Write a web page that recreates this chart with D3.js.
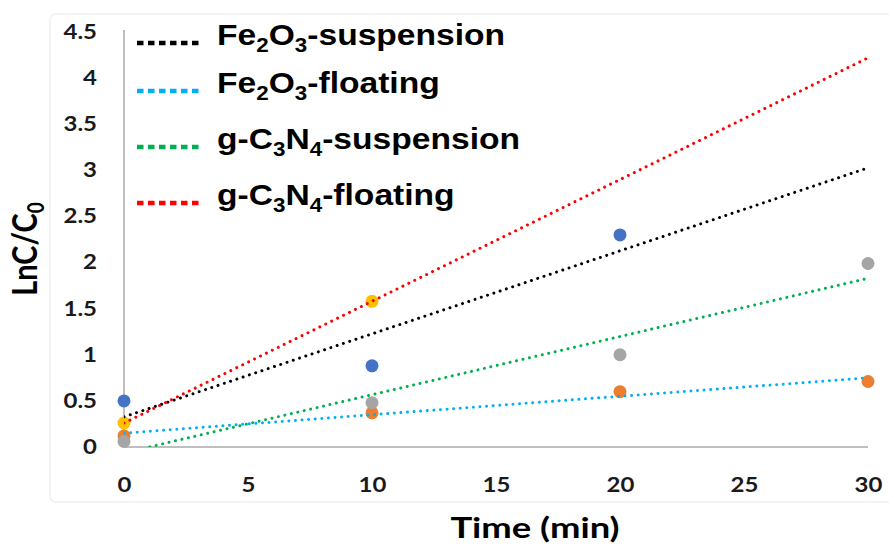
<!DOCTYPE html>
<html lang="en">
<head>
<meta charset="UTF-8">
<title>LnC/C0 vs time</title>
<script src="https://d3js.org/d3.v7.min.js"></script>
<style>
  body { margin: 0; background: white; }
  svg { display: block; }
  .tick text { font-family: Lato, "Open Sans", sans-serif; font-weight: bold; fill: #1a1a1a; }
</style>
</head>
<body>
<svg width="889" height="549"></svg>
<script>
// measured points (time in min, LnC/C0)
const times = [0, 10, 20, 30];
const blueSeries   = [0.50, 0.88, 2.30];          // Fe2O3-suspension
const orangeSeries = [0.12, 0.37, 0.60, 0.71];    // Fe2O3-floating
const graySeries   = [0.06, 0.48, 1.00, 1.99];    // g-C3N4-suspension
const yellowSeries = [0.26, 1.58];                // g-C3N4-floating

const xTicks = [0, 5, 10, 15, 20, 25, 30];
const yTicks = [0, 0.5, 1, 1.5, 2, 2.5, 3, 3.5, 4, 4.5];

// legend labels: [text, subscript?]
const legendLabels = [
  [["Fe"], ["2", 1], ["O"], ["3", 1], ["-suspension"]],
  [["Fe"], ["2", 1], ["O"], ["3", 1], ["-floating"]],
  [["g-C"], ["3", 1], ["N"], ["4", 1], ["-suspension"]],
  [["g-C"], ["3", 1], ["N"], ["4", 1], ["-floating"]]
];

const series = [
  { values: blueSeries,   dot: "#4472C4", trend: "#000000" },
  { values: orangeSeries, dot: "#ED7D31", trend: "#00B0F0" },
  { values: graySeries,   dot: "#A5A5A5", trend: "#00B050" },
  { values: yellowSeries, dot: "#FFC000", trend: "#FF0000" }
];

const svg = d3.select("svg");
const x = d3.scaleLinear().domain([0, 30]).range([124, 868]);
const y = d3.scaleLinear().domain([0, 4.5]).range([447, 32]);

// faint chart border
svg.append("rect").attr("x", 50).attr("y", 14).attr("width", 860).attr("height", 488)
  .attr("rx", 6).attr("fill", "none").attr("stroke", "#f0f0f0").attr("stroke-width", 1.5);

svg.append("defs").append("clipPath").attr("id", "plot")
  .append("rect").attr("x", 124).attr("y", 20).attr("width", 760).attr("height", 427);

// axes (text is stretched sideways like the source image)
const yAxis = svg.append("g").attr("transform", "translate(124,0)")
  .call(d3.axisLeft(y).tickValues(yTicks).tickSize(0).tickPadding(23).tickFormat(d3.format("")));
yAxis.select(".domain").remove();
yAxis.selectAll("text").style("font-size", "20px").attr("transform", "scale(1.2,1)")
  .attr("x", -27 / 1.2);

const xAxis = svg.append("g").attr("transform", "translate(0,447)")
  .call(d3.axisBottom(x).tickValues(xTicks).tickSize(0).tickPadding(31));
xAxis.select(".domain").remove();
xAxis.selectAll("text").style("font-size", "20px").attr("transform", "scale(1.2,1)");

svg.append("line").attr("x1", 124).attr("x2", 124).attr("y1", 30).attr("y2", 447)
  .attr("stroke", "#BFBFBF").attr("stroke-width", 2);
svg.append("line").attr("x1", 124).attr("x2", 868).attr("y1", 447).attr("y2", 447)
  .attr("stroke", "#BFBFBF").attr("stroke-width", 2);

// axis titles
svg.append("text").attr("transform", "translate(535,538) scale(1.3,1)").attr("text-anchor", "middle")
  .style("font-family", "Lato, sans-serif").style("font-weight", "bold").style("font-size", "28px")
  .text("Time (min)");
const yt = svg.append("text").attr("transform", "translate(37,249) scale(1.16,1) rotate(-90)")
  .attr("text-anchor", "middle")
  .style("font-family", "Lato, sans-serif").style("font-weight", "bold").style("font-size", "29px");
yt.append("tspan").text("LnC/C");
yt.append("tspan").attr("dy", 6).style("font-size", "19px").text("0");

// least-squares trend lines
function fit(vals) {
  const xs = times.slice(0, vals.length);
  const mx = d3.mean(xs), my = d3.mean(vals);
  const b = d3.sum(xs, (t, i) => (t - mx) * (vals[i] - my)) / d3.sum(xs, t => (t - mx) * (t - mx));
  return { b: b, a: my - b * mx };
}

// data points
const dots = svg.append("g");
series.forEach(s => {
  dots.selectAll(null).data(s.values).enter().append("circle")
    .attr("cx", (d, i) => x(times[i])).attr("cy", d => y(d)).attr("r", 6.5)
    .attr("fill", s.dot);
});

const trends = svg.append("g").attr("clip-path", "url(#plot)");
series.forEach(s => {
  const f = fit(s.values);
  trends.append("line")
    .attr("x1", x(0)).attr("y1", y(f.a))
    .attr("x2", x(30)).attr("y2", y(f.a + f.b * 30))
    .attr("stroke", s.trend).attr("stroke-width", 3)
    .attr("stroke-dasharray", "0.01,6.6").attr("stroke-linecap", "round");
});

// legend
const legY = [43, 91, 147, 203];
const leg = svg.append("g");
series.forEach((s, i) => {
  leg.append("line").attr("x1", 137).attr("x2", 200).attr("y1", legY[i]).attr("y2", legY[i])
    .attr("stroke", s.trend).attr("stroke-width", 4.5).attr("stroke-dasharray", "6.5,4.5");
  const t = leg.append("text").attr("transform", `translate(217,${legY[i] + 9}) scale(1.12,1)`)
    .style("font-family", "'Liberation Sans', Arial, sans-serif").style("font-weight", "bold")
    .style("font-size", "30px");
  legendLabels[i].forEach(p => {
    if (p[1]) t.append("tspan").attr("dy", 7).style("font-size", "20px").text(p[0]);
    else t.append("tspan").attr("dy", t.selectAll("tspan").size() ? -7 : 0).text(p[0]);
  });
});
</script>
</body>
</html>
